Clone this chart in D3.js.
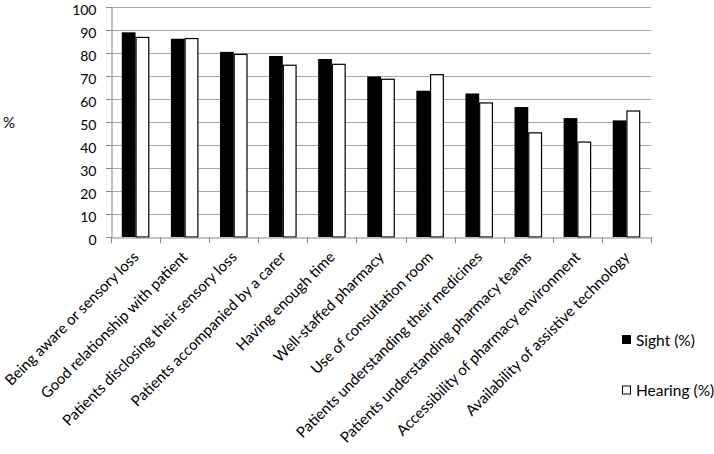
<!DOCTYPE html>
<html><head><meta charset="utf-8">
<script src="https://cdn.jsdelivr.net/npm/d3@7"></script>
<style>body{margin:0;background:#fff}svg{display:block}text{font-family:Lato,"Open Sans",sans-serif;fill:#000}</style>
</head><body>
<script>
const categories = ["Being aware or sensory loss","Good relationship with patient","Patients disclosing their sensory loss","Patients accompanied by a carer","Having enough time","Well-staffed pharmacy","Use of consultation room","Patients understanding their medicines","Patients understanding pharmacy teams","Accessibility of pharmacy environment","Availability of assistive technology"];
const sight = [89, 86.2, 80.5, 78.7, 77.4, 69.8, 63.6, 62.4, 56.5, 51.7, 50.7];
const hearing = [87, 86.5, 79.6, 74.9, 75.3, 68.8, 70.8, 58.5, 45.5, 41.5, 55];
const yTicks = [0,10,20,30,40,50,60,70,80,90,100];
const seriesNames = ["Sight (%)","Hearing (%)"];

const W=714,H=454;
const svg=d3.select("body").append("svg").attr("width",W).attr("height",H);
const x0=111,x1=651,yTop=7,yBot=237;
const x=d3.scaleBand().domain(categories).range([x0,x1]).paddingInner(0.44).paddingOuter(0.22);
const xs=d3.scaleBand().domain([0,1]).range([0,x.bandwidth()]);
const y=d3.scaleLinear().domain([0,100]).range([yBot,yTop]);

// gridlines
svg.append("g").selectAll("line").data(yTicks.filter(d=>d>0)).join("line")
  .attr("x1",x0-5).attr("x2",x1).attr("y1",d=>Math.round(y(d))+0.5).attr("y2",d=>Math.round(y(d))+0.5)
  .attr("stroke","#a6a6a6").attr("stroke-width",1);

// y axis
const ya=svg.append("g").attr("transform",`translate(${x0+0.5},0)`)
  .call(d3.axisLeft(y).tickValues(yTicks).tickSize(5).tickPadding(10));
ya.select(".domain").attr("stroke","#888");
ya.selectAll(".tick line").attr("stroke","#888");
ya.selectAll(".tick text").style("font-size","14px").attr("dy","0.5em").attr("fill","#000");

// bars
const grp=svg.append("g").selectAll("g").data(categories).join("g")
  .attr("transform",d=>`translate(${x(d)},0)`);
grp.append("rect").attr("x",xs(0)).attr("width",xs.bandwidth())
  .attr("y",(d,i)=>y(sight[i])).attr("height",(d,i)=>yBot-y(sight[i])).attr("fill","#000");
grp.append("rect").attr("x",xs(1)+0.5).attr("width",xs.bandwidth()-1)
  .attr("y",(d,i)=>y(hearing[i])+0.5).attr("height",(d,i)=>yBot-y(hearing[i])-0.5)
  .attr("fill","#fff").attr("stroke","#000").attr("stroke-width",1.2);

// x axis
const xa=svg.append("g").attr("transform",`translate(0,${yBot+0.5})`)
  .call(d3.axisBottom(x).tickSize(0).tickFormat(""));
xa.select(".domain").attr("stroke","#888");
const bounds=d3.range(categories.length+1).map(i=>x0+i*(x1-x0)/categories.length);
svg.append("g").selectAll("line").data(bounds).join("line")
  .attr("x1",d=>Math.round(d)+0.5).attr("x2",d=>Math.round(d)+0.5).attr("y1",yBot).attr("y2",yBot+6)
  .attr("stroke","#888");

// x labels
svg.append("g").selectAll("text").data(categories).join("text")
  .attr("transform",d=>`translate(${x(d)+x.bandwidth()/2+4},${yBot+21}) rotate(-45)`)
  .attr("text-anchor","end").style("font-size","15px").text(d=>d);

// y title
svg.append("text").attr("x",3).attr("y",128).style("font-size","15px").text("%");

// legend
const lg=svg.append("g").selectAll("g").data(seriesNames).join("g")
  .attr("transform",(d,i)=>`translate(622,${340+i*50.5})`);
lg.append("rect").attr("x",0.5).attr("y",-4.5).attr("width",8).attr("height",8)
  .attr("fill",(d,i)=>i?"#fff":"#000").attr("stroke","#000");
lg.append("text").attr("x",14).attr("y",5.5).style("font-size","15.5px").text(d=>d);
</script>
</body></html>
